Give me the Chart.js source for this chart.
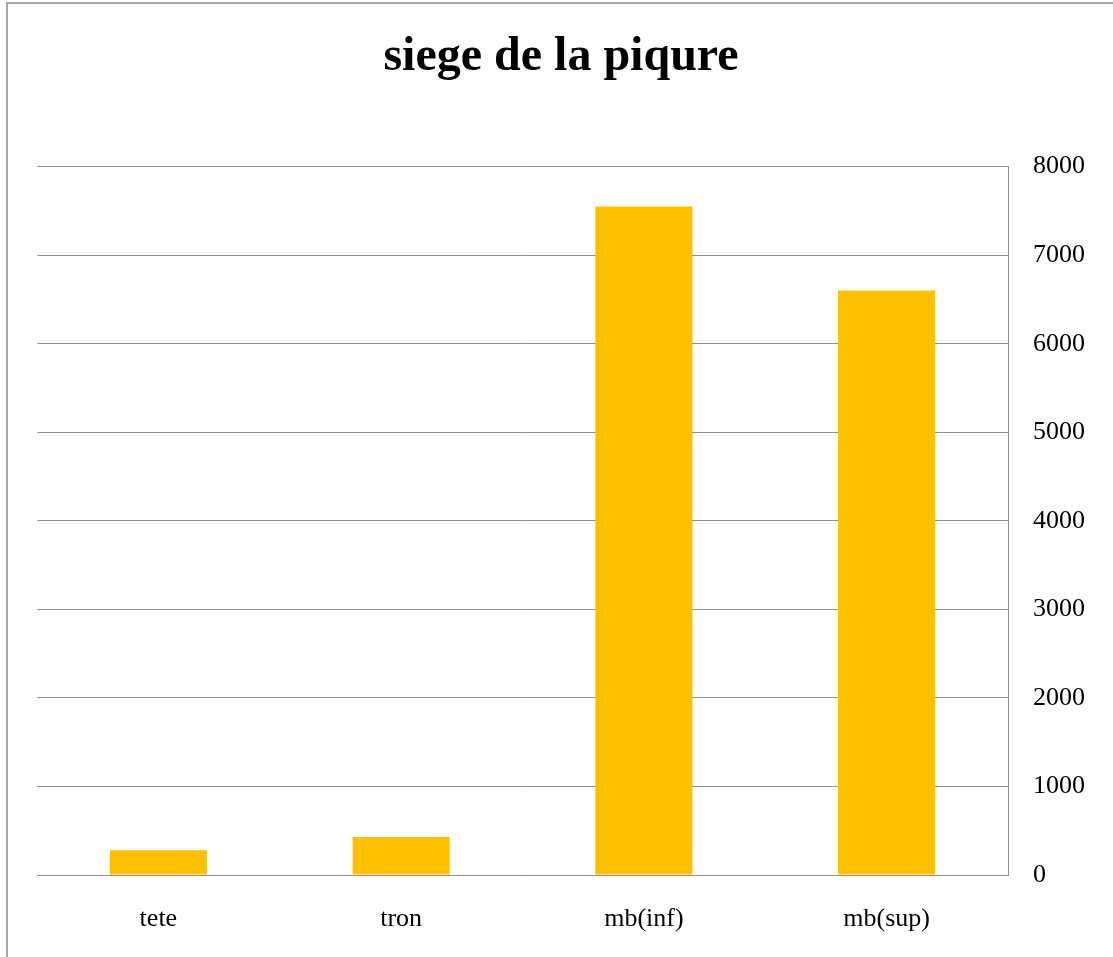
<!doctype html>
<html>

<head>
	<title>siege de la piqure</title>
	<script src="https://cdn.jsdelivr.net/npm/chart.js@4"></script>
	<style>
		html, body { margin: 0; padding: 0; background: #fff; }
		#holder { width: 1113px; height: 957px; }
	</style>
</head>

<body>
	<div id="holder">
		<canvas id="chart-area" width="1113" height="957"></canvas>
	</div>

	<script>
		const categories = ['tete', 'tron', 'mb(inf)', 'mb(sup)'];
		const values = [280, 430, 7550, 6600];
		const yTicks = { min: 0, max: 8000, step: 1000 };

		// thin grey frame round the whole chart, like the office export
		const frame = {
			id: 'frame',
			beforeDraw(chart) {
				const c = chart.ctx;
				c.save();
				c.fillStyle = '#fff';
				c.fillRect(0, 0, chart.width, chart.height);
				c.strokeStyle = '#a6a6a6';
				c.lineWidth = 2;
				c.strokeRect(7, 3, chart.width + 10, chart.height + 10);
				c.restore();
			}
		};

		const serif = '"Liberation Serif", "Times New Roman", serif';

		const ctx2d = document.getElementById('chart-area').getContext('2d');
		window.myBar = new Chart(ctx2d, {
			type: 'bar',
			data: {
				labels: categories,
				datasets: [{
					label: 'siege de la piqure',
					data: values,
					backgroundColor: '#ffc000',
					borderWidth: 0,
					barPercentage: 0.4,
					categoryPercentage: 1
				}]
			},
			plugins: [frame],
			options: {
				responsive: false,
				animation: false,
				layout: {
					padding: { left: 37, right: 28, top: 3, bottom: 0 }
				},
				scales: {
					x: {
						afterFit(scale) {
							scale.height = 82;
						},
						grid: { display: false, drawTicks: false },
						border: { display: false },
						ticks: {
							color: '#000',
							padding: 29,
							font: { family: serif, size: 26 }
						}
					},
					y: {
						position: 'right',
						min: yTicks.min,
						max: yTicks.max,
						afterFit(scale) {
							scale.width = 77;
						},
						grid: {
							color: '#8f8f8f',
							lineWidth: 1,
							drawTicks: false
						},
						border: { display: true, color: '#8f8f8f', width: 1 },
						ticks: {
							stepSize: yTicks.step,
							color: '#000',
							padding: 25,
							font: { family: serif, size: 26 },
							callback: (v) => String(v)
						}
					}
				},
				plugins: {
					legend: { display: false },
					tooltip: { enabled: false },
					title: {
						display: true,
						text: 'siege de la piqure',
						color: '#000',
						font: { family: serif, size: 48, weight: 'bold' },
						padding: { top: 26, bottom: 80 }
					}
				}
			}
		});
	</script>
</body>
</html>
